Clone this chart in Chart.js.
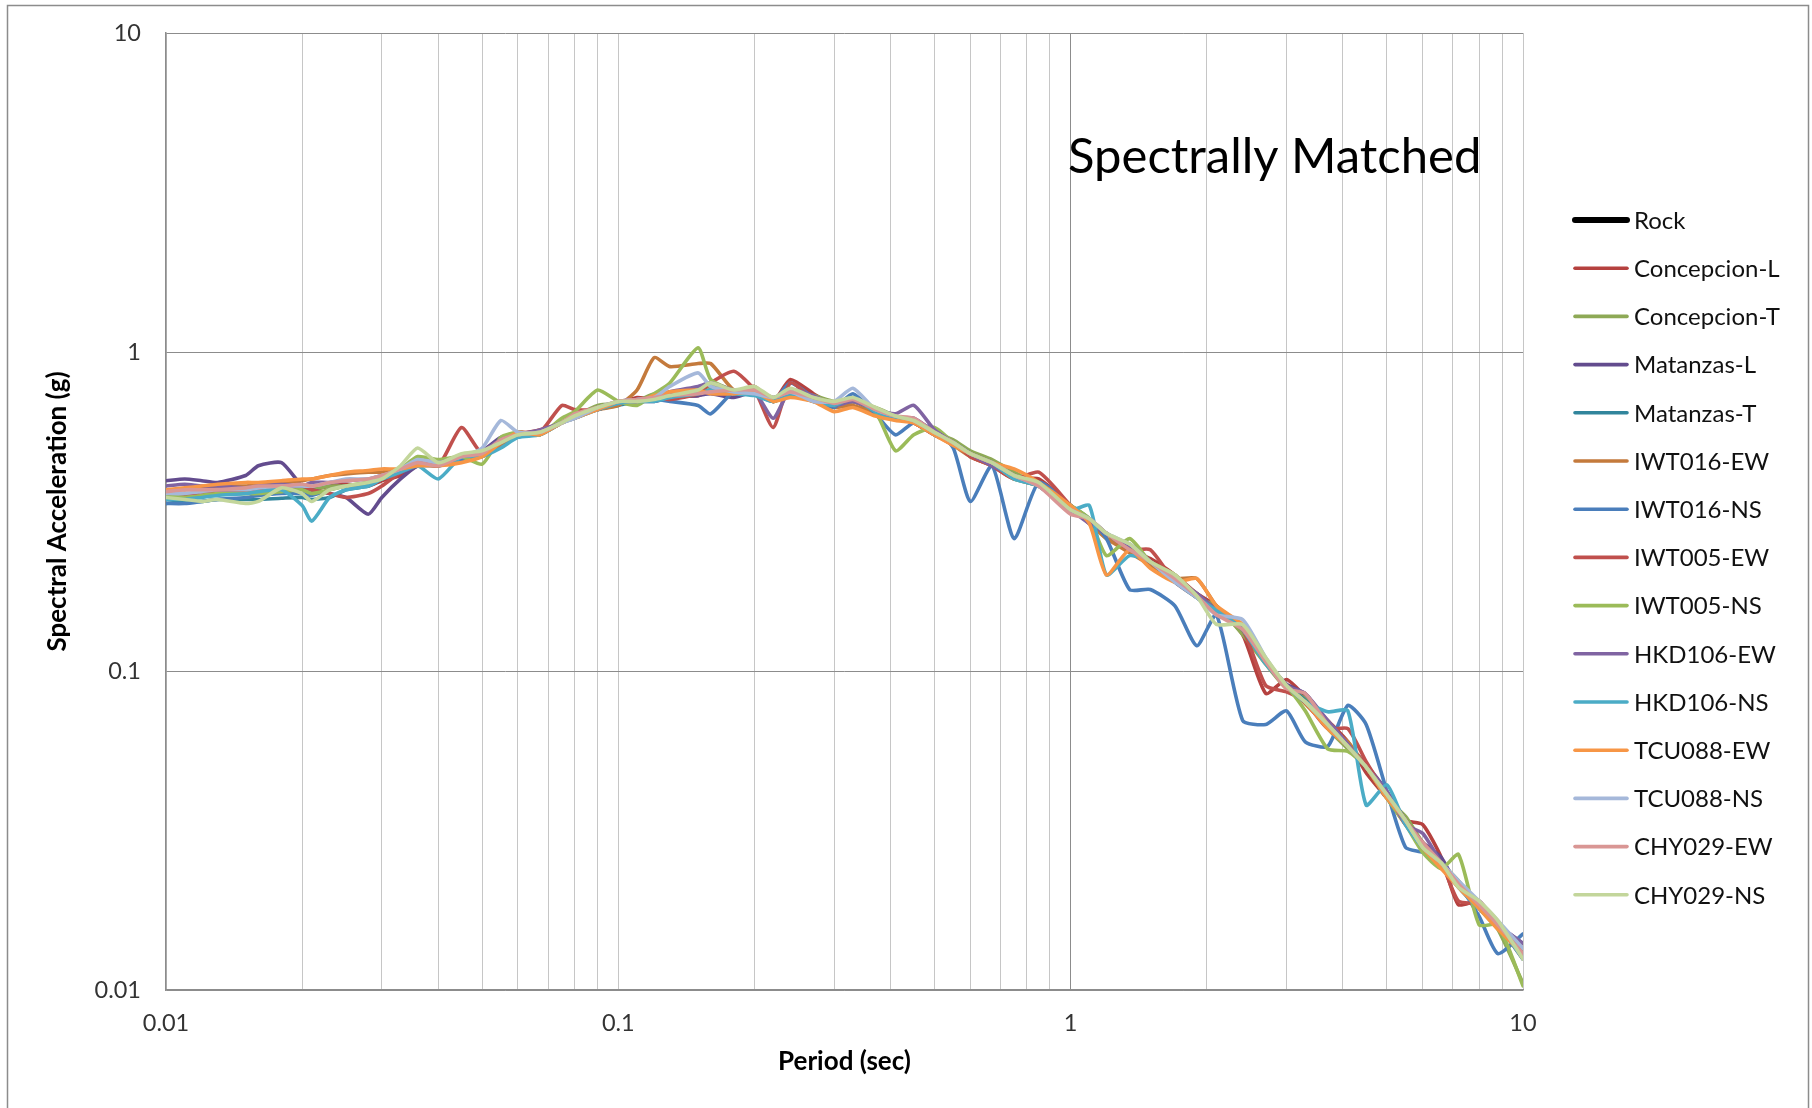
<!DOCTYPE html>
<html><head><meta charset="utf-8">
<script src="https://cdn.jsdelivr.net/npm/chart.js@4.4.1/dist/chart.umd.min.js"></script>
<style>html,body{margin:0;padding:0;background:#fff;}canvas{display:block;}</style>
</head><body>
<canvas id="c" width="1812" height="1108" style="width:1812px;height:1108px"></canvas>
<script>
// ---- Data ----
const periods = [0.01,0.011,0.012,0.013,0.015,0.016,0.018,0.02,0.021,0.023,
  0.025,0.028,0.03,0.033,0.036,0.04,0.045,0.05,0.055,0.06,
  0.067,0.075,0.08,0.09,0.1,0.11,0.12,0.13,0.15,0.16,
  0.18,0.2,0.22,0.24,0.27,0.3,0.33,0.37,0.41,0.45,
  0.5,0.55,0.6,0.67,0.75,0.85,1,1.1,1.2,1.35,
  1.5,1.7,1.9,2.1,2.4,2.7,3,3.3,3.7,4.1,
  4.5,5,5.5,6,6.6,7.2,8,8.8,10];

const rock = [];
const concepcionL = [0.35,0.355,0.36,0.37,0.365,0.37,0.38,0.375,0.37,0.38,
  0.385,0.38,0.395,0.41,0.44,0.45,0.47,0.49,0.52,0.55,
  0.57,0.6,0.64,0.66,0.69,0.72,0.71,0.74,0.73,0.76,
  0.74,0.78,0.70,0.82,0.74,0.68,0.70,0.65,0.62,0.60,
  0.55,0.52,0.47,0.44,0.40,0.40,0.33,0.29,0.27,0.24,
  0.225,0.20,0.175,0.16,0.13,0.085,0.094,0.083,0.07,0.06,
  0.048,0.04,0.034,0.033,0.026,0.0185,0.019,0.016,0.013];
const concepcionT = [0.355,0.35,0.355,0.36,0.36,0.365,0.37,0.375,0.37,0.38,
  0.38,0.39,0.40,0.43,0.46,0.44,0.47,0.47,0.52,0.55,
  0.55,0.60,0.63,0.68,0.69,0.70,0.74,0.72,0.76,0.78,
  0.74,0.75,0.70,0.74,0.73,0.70,0.70,0.67,0.63,0.60,
  0.56,0.53,0.49,0.46,0.42,0.38,0.33,0.30,0.26,0.25,
  0.22,0.20,0.17,0.16,0.13,0.105,0.088,0.082,0.066,0.057,
  0.05,0.04,0.035,0.029,0.025,0.022,0.018,0.0155,0.0105];
const matanzasL = [0.395,0.40,0.395,0.39,0.41,0.44,0.45,0.38,0.37,0.36,
  0.35,0.31,0.35,0.40,0.44,0.45,0.47,0.49,0.54,0.55,
  0.56,0.60,0.63,0.66,0.69,0.70,0.70,0.72,0.73,0.74,
  0.72,0.75,0.70,0.74,0.71,0.68,0.70,0.66,0.62,0.62,
  0.56,0.51,0.48,0.44,0.40,0.38,0.32,0.30,0.27,0.245,
  0.22,0.19,0.175,0.155,0.135,0.108,0.091,0.085,0.069,0.059,
  0.051,0.042,0.034,0.029,0.026,0.021,0.019,0.016,0.014];
const matanzasT = [0.335,0.34,0.34,0.345,0.345,0.345,0.348,0.35,0.345,0.35,
  0.37,0.38,0.40,0.42,0.45,0.44,0.46,0.48,0.53,0.56,
  0.55,0.60,0.62,0.66,0.68,0.70,0.71,0.72,0.74,0.76,
  0.75,0.76,0.72,0.75,0.72,0.69,0.71,0.65,0.62,0.61,
  0.56,0.52,0.48,0.45,0.41,0.39,0.33,0.30,0.27,0.24,
  0.22,0.195,0.17,0.155,0.135,0.106,0.09,0.081,0.067,0.058,
  0.05,0.041,0.034,0.028,0.025,0.0215,0.0185,0.016,0.013];
const iwt016EW = [0.37,0.37,0.375,0.38,0.38,0.385,0.39,0.395,0.40,0.41,
  0.415,0.42,0.42,0.43,0.44,0.45,0.46,0.47,0.51,0.55,
  0.56,0.60,0.63,0.66,0.68,0.76,0.96,0.90,0.92,0.92,
  0.76,0.74,0.70,0.73,0.70,0.67,0.68,0.64,0.62,0.60,
  0.55,0.51,0.47,0.44,0.41,0.39,0.33,0.29,0.26,0.235,
  0.215,0.195,0.195,0.16,0.135,0.108,0.09,0.079,0.067,0.06,
  0.05,0.04,0.033,0.028,0.025,0.021,0.018,0.016,0.0135];
const iwt016NS = [0.335,0.335,0.34,0.345,0.35,0.355,0.36,0.36,0.355,0.37,
  0.38,0.385,0.40,0.42,0.44,0.44,0.46,0.48,0.52,0.55,
  0.56,0.60,0.63,0.66,0.70,0.70,0.71,0.70,0.68,0.64,
  0.75,0.74,0.70,0.80,0.72,0.67,0.74,0.64,0.55,0.60,
  0.57,0.50,0.34,0.44,0.26,0.39,0.33,0.30,0.26,0.18,
  0.18,0.16,0.12,0.15,0.07,0.068,0.075,0.06,0.058,0.078,
  0.068,0.042,0.028,0.027,0.025,0.0215,0.017,0.013,0.015];
const iwt005EW = [0.355,0.36,0.36,0.365,0.37,0.37,0.375,0.38,0.37,0.36,
  0.35,0.36,0.38,0.42,0.45,0.44,0.58,0.48,0.52,0.56,
  0.56,0.68,0.66,0.66,0.70,0.70,0.72,0.71,0.74,0.80,
  0.87,0.76,0.58,0.80,0.71,0.68,0.70,0.66,0.62,0.60,
  0.55,0.52,0.47,0.44,0.40,0.42,0.33,0.29,0.27,0.24,
  0.24,0.19,0.17,0.155,0.135,0.09,0.086,0.08,0.066,0.066,
  0.052,0.041,0.034,0.029,0.025,0.019,0.0185,0.016,0.0125];
const iwt005NS = [0.355,0.35,0.355,0.36,0.36,0.36,0.365,0.37,0.36,0.37,
  0.38,0.39,0.40,0.43,0.47,0.46,0.47,0.445,0.54,0.56,
  0.55,0.62,0.65,0.76,0.70,0.68,0.74,0.80,1.03,0.82,
  0.76,0.76,0.70,0.74,0.72,0.68,0.70,0.65,0.49,0.55,
  0.58,0.52,0.48,0.45,0.40,0.38,0.33,0.30,0.23,0.26,
  0.22,0.20,0.17,0.155,0.135,0.107,0.09,0.075,0.057,0.056,
  0.05,0.04,0.033,0.027,0.024,0.0266,0.016,0.016,0.0103];
const hkd106EW = [0.38,0.385,0.38,0.38,0.375,0.38,0.385,0.38,0.39,0.39,
  0.395,0.40,0.41,0.42,0.45,0.45,0.47,0.49,0.53,0.55,
  0.57,0.60,0.63,0.67,0.70,0.71,0.72,0.75,0.78,0.80,
  0.76,0.75,0.62,0.76,0.73,0.68,0.70,0.66,0.64,0.68,
  0.57,0.52,0.48,0.44,0.41,0.38,0.32,0.29,0.27,0.245,
  0.22,0.195,0.175,0.155,0.135,0.108,0.09,0.085,0.07,0.059,
  0.05,0.042,0.033,0.031,0.025,0.021,0.0185,0.016,0.014];
const hkd106NS = [0.345,0.345,0.35,0.355,0.36,0.365,0.37,0.33,0.295,0.35,
  0.37,0.38,0.40,0.42,0.44,0.40,0.47,0.47,0.50,0.54,
  0.55,0.60,0.62,0.66,0.69,0.70,0.70,0.72,0.74,0.76,
  0.74,0.73,0.70,0.74,0.70,0.68,0.72,0.65,0.62,0.61,
  0.55,0.52,0.48,0.45,0.40,0.38,0.32,0.33,0.20,0.23,
  0.22,0.19,0.17,0.155,0.135,0.105,0.09,0.08,0.0745,0.075,
  0.038,0.044,0.033,0.028,0.025,0.021,0.018,0.016,0.0125];
const tcu088EW = [0.37,0.375,0.38,0.385,0.39,0.39,0.395,0.40,0.40,0.41,
  0.42,0.425,0.43,0.43,0.44,0.44,0.45,0.47,0.52,0.56,
  0.55,0.60,0.62,0.66,0.70,0.70,0.73,0.75,0.76,0.74,
  0.74,0.75,0.70,0.72,0.70,0.65,0.67,0.63,0.61,0.60,
  0.55,0.51,0.48,0.45,0.43,0.39,0.33,0.29,0.20,0.24,
  0.21,0.19,0.195,0.16,0.14,0.107,0.09,0.08,0.066,0.058,
  0.05,0.04,0.034,0.028,0.024,0.021,0.018,0.0155,0.013];
const tcu088NS = [0.36,0.36,0.365,0.37,0.37,0.375,0.38,0.38,0.38,0.39,
  0.40,0.40,0.41,0.43,0.46,0.45,0.47,0.50,0.61,0.56,
  0.56,0.60,0.62,0.67,0.70,0.71,0.72,0.78,0.86,0.78,
  0.75,0.74,0.72,0.75,0.70,0.70,0.77,0.66,0.63,0.61,
  0.56,0.52,0.48,0.45,0.41,0.38,0.32,0.30,0.27,0.25,
  0.22,0.19,0.17,0.15,0.145,0.11,0.09,0.08,0.068,0.058,
  0.05,0.041,0.034,0.028,0.025,0.022,0.019,0.0165,0.0135];
const chy029EW = [0.365,0.37,0.37,0.37,0.375,0.38,0.38,0.385,0.38,0.39,
  0.395,0.40,0.41,0.43,0.45,0.44,0.47,0.48,0.53,0.55,
  0.56,0.60,0.64,0.67,0.70,0.71,0.72,0.73,0.74,0.75,
  0.76,0.76,0.72,0.75,0.72,0.69,0.71,0.66,0.63,0.62,
  0.56,0.52,0.48,0.45,0.41,0.38,0.31,0.30,0.27,0.24,
  0.22,0.195,0.172,0.15,0.135,0.107,0.088,0.085,0.068,0.058,
  0.05,0.041,0.034,0.029,0.025,0.0215,0.0185,0.016,0.013];
const chy029NS = [0.35,0.345,0.34,0.345,0.335,0.34,0.375,0.36,0.34,0.37,
  0.38,0.39,0.40,0.44,0.50,0.45,0.48,0.49,0.52,0.55,
  0.56,0.60,0.63,0.67,0.70,0.70,0.71,0.73,0.76,0.80,
  0.76,0.78,0.72,0.77,0.72,0.70,0.72,0.67,0.63,0.61,
  0.56,0.52,0.48,0.45,0.41,0.39,0.32,0.30,0.27,0.25,
  0.22,0.20,0.172,0.14,0.14,0.11,0.09,0.08,0.068,0.058,
  0.05,0.041,0.034,0.028,0.025,0.021,0.019,0.0165,0.0125];

const seriesNames = ['Rock','Concepcion-L','Concepcion-T','Matanzas-L','Matanzas-T',
  'IWT016-EW','IWT016-NS','IWT005-EW','IWT005-NS','HKD106-EW','HKD106-NS',
  'TCU088-EW','TCU088-NS','CHY029-EW','CHY029-NS'];
const seriesValues = [rock,concepcionL,concepcionT,matanzasL,matanzasT,
  iwt016EW,iwt016NS,iwt005EW,iwt005NS,hkd106EW,hkd106NS,
  tcu088EW,tcu088NS,chy029EW,chy029NS];
const seriesColors = ['#000000','#B5413F','#8EA956','#634C8E','#31859C',
  '#C47A3C','#4A7EBB','#C0504D','#9BBB59','#8064A2','#4BACC6',
  '#F79646','#A5B8DA','#D99694','#C3D69B'];
const seriesWidths = [6,3.6,3.6,3.6,3.6,3.6,3.6,3.6,3.6,3.6,3.6,3.6,3.6,3.6,3.6];

const xTickValues = [0.01,0.1,1,10];
const xTickLabels = ['0.01','0.1','1','10'];
const yTickValues = [0.01,0.1,1,10];
const yTickLabels = ['0.01','0.1','1','10'];
const chartTitle = 'Spectrally Matched';
const xTitle = 'Period (sec)';
const yTitle = 'Spectral Acceleration (g)';

// ---- Chart ----
const FONT = 'Lato';
const datasets = seriesNames.map((name, i) => ({
  label: name,
  data: seriesValues[i].map((v, k) => ({x: periods[k], y: v})),
  borderColor: seriesColors[i],
  backgroundColor: seriesColors[i],
  borderWidth: seriesWidths[i],
  pointRadius: 0,
  tension: 0.2,
  borderJoinStyle: 'round',
  borderCapStyle: 'round',
  fill: false,
  order: seriesNames.length - i
}));

function sameVal(a, b){ return Math.abs(Math.log10(a) - Math.log10(b)) < 1e-6; }

const decor = {
  id: 'decor',
  beforeDraw(chart){
    const c = chart.ctx; c.save();
    c.fillStyle = '#fff'; c.fillRect(0, 0, chart.width, chart.height);
    c.restore();
  },
  afterDraw(chart){
    const c = chart.ctx, a = chart.chartArea; c.save();
    c.strokeStyle = '#8c8c8c'; c.lineWidth = 1.5;
    c.strokeRect(7.5, 5.5, 1801, 1120);
    // in-plot title
    c.fillStyle = '#000'; c.font = '49px ' + FONT;
    c.textAlign = 'left'; c.textBaseline = 'alphabetic';
    c.fillText(chartTitle, a.left + 902, 173);
    // legend
    chart.data.datasets.forEach((ds, i) => {
      const y = 220 + i * 48.2;
      const x0 = a.right + 52;
      c.strokeStyle = ds.borderColor; c.lineWidth = ds.borderWidth; c.lineCap = 'round';
      c.beginPath(); c.moveTo(x0, y); c.lineTo(x0 + 52, y); c.stroke();
      c.fillStyle = '#111'; c.font = '24px ' + FONT; c.textBaseline = 'middle';
      c.fillText(ds.label, x0 + 59, y + 1);
    });
    c.restore();
  }
};

new Chart(document.getElementById('c'), {
  type: 'line',
  data: { datasets },
  plugins: [decor],
  options: {
    responsive: false, animation: false, devicePixelRatio: 1,
    layout: { padding: { top: 33, right: 289, bottom: 0, left: 0 } },
    plugins: { legend: { display: false }, tooltip: { enabled: false } },
    scales: {
      x: {
        type: 'logarithmic', min: 0.01, max: 10, position: 'bottom',
        afterFit(s){ s.height = 118; },
        afterBuildTicks(s){
          const t = [];
          for (let d = 0; d < xTickValues.length - 1; d++) {
            for (let k = 1; k < 10; k++) t.push({value: parseFloat((k * xTickValues[d]).toPrecision(6))});
          }
          t.push({value: xTickValues[xTickValues.length - 1]});
          s.ticks = t;
        },
        grid: { drawTicks: false, lineWidth: 1,
          color: ctx => (ctx.tick && sameVal(ctx.tick.value, 1)) ? '#8c8c8c' : '#c6c6c6' },
        border: { display: true, color: '#8c8c8c', width: 1.5 },
        ticks: { autoSkip: false, maxRotation: 0, minRotation: 0, padding: 19, color: '#333',
          font: { family: FONT, size: 23.5 },
          callback: (v) => { const i = xTickValues.findIndex(t => sameVal(t, v)); return i >= 0 ? xTickLabels[i] : ''; } },
        title: { display: true, text: xTitle, color: '#000',
          font: { family: FONT, size: 26, weight: 'bold' }, padding: { top: 0, bottom: 31 } }
      },
      y: {
        type: 'logarithmic', min: 0.01, max: 10, position: 'left',
        afterFit(s){ s.width = 166; s.paddingTop = 0; s.paddingBottom = 0; },
        afterBuildTicks(s){ s.ticks = yTickValues.map(v => ({value: v})); },
        grid: { drawTicks: false, lineWidth: 1, color: '#8c8c8c' },
        border: { display: true, color: '#8c8c8c', width: 1.5 },
        ticks: { autoSkip: false, padding: 25, color: '#333', font: { family: FONT, size: 23.5 },
          callback: (v, i) => yTickLabels[i] },
        title: { display: true, text: yTitle, color: '#000',
          font: { family: FONT, size: 26, weight: 'bold' }, padding: { top: 42, bottom: 0 } }
      }
    }
  }
});
</script>
</body></html>
